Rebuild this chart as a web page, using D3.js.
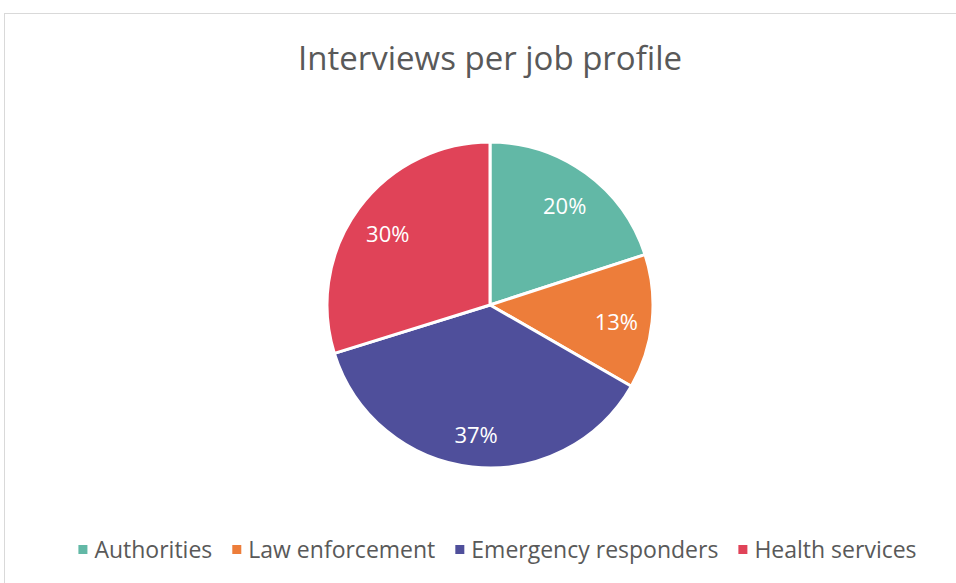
<!DOCTYPE html>
<html>
<head>
<meta charset="utf-8">
<script src="https://cdn.jsdelivr.net/npm/d3@7"></script>
<style>
  body { margin: 0; background: #fff; }
  text { font-family: 'Open Sans', 'Noto Sans', sans-serif; }
</style>
</head>
<body>
<div id="chart"></div>
<script>
const categories = ['Authorities', 'Law enforcement', 'Emergency responders', 'Health services']
const values = [20, 13.3, 36.9, 29.8]
const colors = ['#62b8a6', '#ed7d3a', '#4f4f9b', '#e04358']
const title = 'Interviews per job profile'

const width = 956
const height = 583
const cx = 490
const cy = 305
const radius = 163

const svg = d3.select('#chart').append('svg')
    .attr('width', width)
    .attr('height', height)

// chart frame
svg.append('rect')
    .attr('x', 4.5).attr('y', 13.5)
    .attr('width', width + 10).attr('height', height + 10)
    .attr('fill', 'none')
    .attr('stroke', '#d9d9d9')

svg.append('text')
    .attr('x', cx).attr('y', 70)
    .attr('text-anchor', 'middle')
    .attr('font-size', 33)
    .attr('fill', '#595959')
    .text(title)

const data = categories.map((c, i) => ({name: c, value: values[i], color: colors[i]}))
const total = d3.sum(values)
const fmt = d3.format('.0%')

const pie = d3.pie().sort(null).value(d => d.value)
const arc = d3.arc().innerRadius(0).outerRadius(radius)
const labelArc = d3.arc().innerRadius(127).outerRadius(127)

const g = svg.append('g').attr('transform', 'translate(' + cx + ',' + cy + ')')

g.selectAll('path')
    .data(pie(data))
  .enter().append('path')
    .attr('d', arc)
    .attr('fill', d => d.data.color)
    .attr('stroke', '#fff')
    .attr('stroke-width', 3)
    .attr('stroke-linejoin', 'round')

g.selectAll('.label')
    .data(pie(data))
  .enter().append('text')
    .attr('class', 'label')
    .attr('transform', d => 'translate(' + labelArc.centroid(d) + ')')
    .attr('text-anchor', 'middle')
    .attr('dy', '0.55em')
    .attr('font-size', 22)
    .attr('fill', '#fff')
    .text(d => fmt(d.data.value / total))

// legend, laid out from measured text widths
const legend = svg.append('g')
const items = legend.selectAll('g')
    .data(data)
  .enter().append('g')

items.append('rect')
    .attr('width', 9).attr('height', 9)
    .attr('y', -5)
    .attr('fill', d => d.color)

items.append('text')
    .attr('x', 16)
    .attr('dy', '0.35em')
    .attr('font-size', 23)
    .attr('fill', '#595959')
    .text(d => d.name)

let xPos = 0
items.each(function () {
  const w = this.querySelector('text').getComputedTextLength()
  d3.select(this).attr('transform', 'translate(' + xPos + ',0)')
  xPos += 16 + w + 20
})
const legendWidth = xPos - 20
legend.attr('transform', 'translate(' + (497.5 - legendWidth / 2) + ',550)')
</script>
</body>
</html>
